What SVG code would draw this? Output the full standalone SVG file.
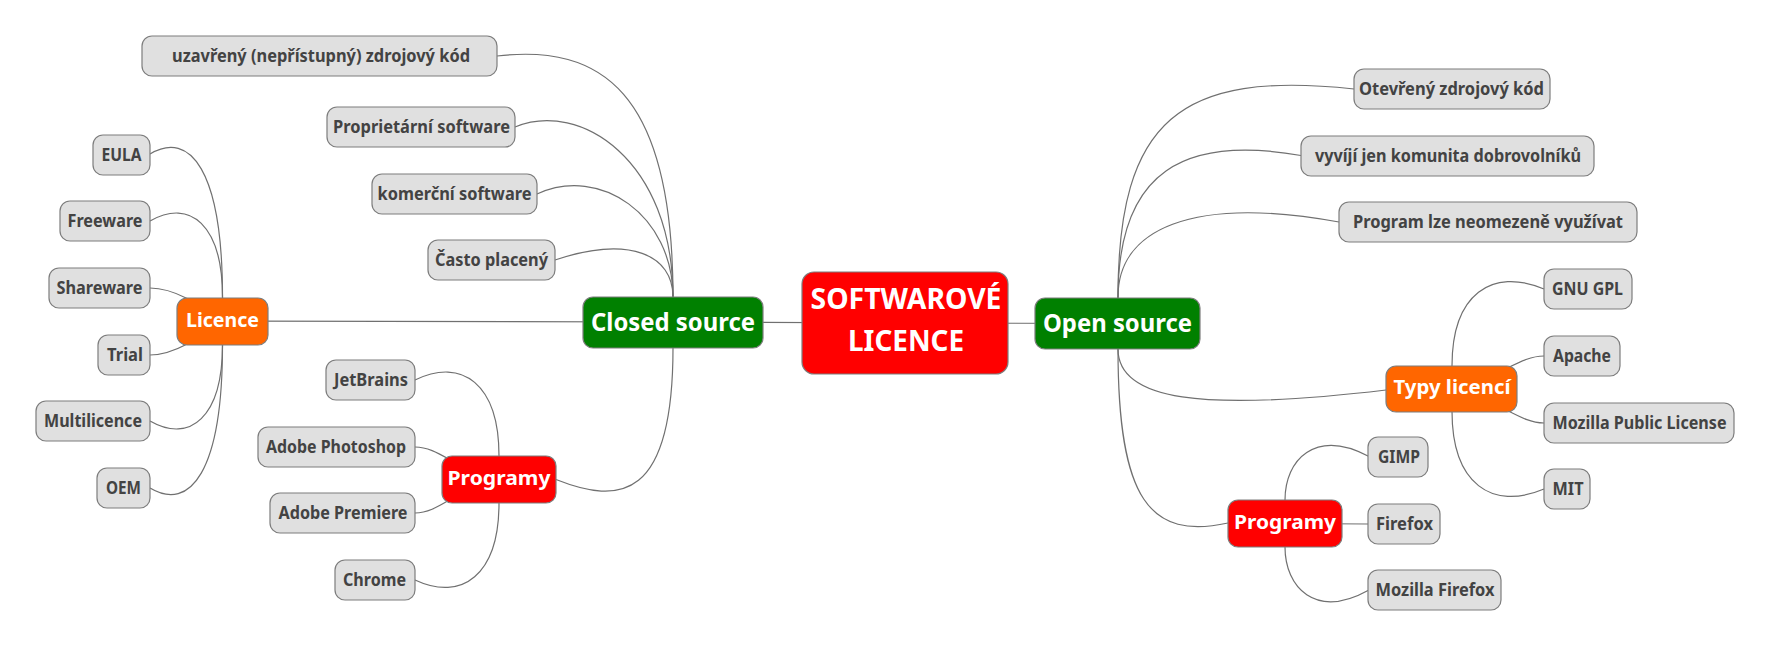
<svg xmlns="http://www.w3.org/2000/svg" width="1772" height="648" viewBox="0 0 1772 648">
<style>
.c{fill:none;stroke:#707070;stroke-width:1.2}
.leaf rect{fill:#e0e0e0;stroke:#7d7d7d;stroke-width:1.2}
.leaf text{fill:#434343;font-family:"Noto Sans","Open Sans",sans-serif;font-weight:bold;font-size:17px;text-anchor:middle}
.l2 rect,.l1 rect,.root rect{stroke:#7d7d7d;stroke-width:1.2}
.l2 text{fill:#ffffff;font-family:"Noto Sans","Open Sans",sans-serif;font-weight:bold;font-size:20px;text-anchor:middle}
.l1 text{fill:#ffffff;font-family:"Noto Sans","Open Sans",sans-serif;font-weight:bold;font-size:24.5px;text-anchor:middle}
.root text{fill:#ffffff;font-family:"Noto Sans","Open Sans",sans-serif;font-weight:bold;font-size:28.5px;text-anchor:middle}
.red{fill:#ff0000}.orange{fill:#ff6600}.green{fill:#008000}
</style>
<rect width="1772" height="648" fill="#ffffff"/>
<g id="connectors">
<path class="c" d="M905,323 L673,322"/>
<path class="c" d="M905,323 L1117,323.5"/>
<path class="c" d="M673,322 L673,297 C673,90 600,44 497,56"/>
<path class="c" d="M673,322 L673,297 C673,160 580,100 515,127"/>
<path class="c" d="M673,322 L673,297 C673,215 600,165 537,194"/>
<path class="c" d="M673,322 L673,297 C673,255 630,235 555,260"/>
<path class="c" d="M222,321 L673,322"/>
<path class="c" d="M673,322 L673,348 C673,500 620,505 556,479.5"/>
<path class="c" d="M222.5,321 L222.5,297 C222.5,170 190,130 150,154"/>
<path class="c" d="M222.5,321 L222.5,297 C222.5,225 190,198 150,221"/>
<path class="c" d="M150,288 C175,288 200,305 222.5,321"/>
<path class="c" d="M150,355 C175,355 200,337 222.5,321"/>
<path class="c" d="M222.5,321 L222.5,345 C222.5,417 190,444 150,421"/>
<path class="c" d="M222.5,321 L222.5,345 C222.5,472 190,512 150,488"/>
<path class="c" d="M499,479 L499,456 C499,384 462,357 415,380"/>
<path class="c" d="M415,447 C440,447 455,470 499,479.5"/>
<path class="c" d="M415,513 C440,513 455,489 499,479.5"/>
<path class="c" d="M499,479 L499,503 C499,575 462,602 415,580"/>
<path class="c" d="M1118,323 L1118,297 C1118,120 1180,70 1354,89"/>
<path class="c" d="M1118,323 L1118,297 C1118,170 1185,135 1301,155.5"/>
<path class="c" d="M1118,323 L1118,297 C1118,230 1190,195 1339,222"/>
<path class="c" d="M1118,323 L1118,349 C1118,400 1200,412 1386,390"/>
<path class="c" d="M1118,323 L1118,349 C1118,500 1150,540 1228,523"/>
<path class="c" d="M1452,389 L1452,366 C1452,294 1492,267 1544,289"/>
<path class="c" d="M1544,356 C1519,356 1500,378 1451.5,389"/>
<path class="c" d="M1544,423 C1519,423 1500,400 1451.5,389"/>
<path class="c" d="M1452,389 L1452,411 C1452,484 1492,511 1544,489"/>
<path class="c" d="M1285,523 L1285,500 C1285,460 1315,428 1369,456.5"/>
<path class="c" d="M1285,523.5 L1368,524"/>
<path class="c" d="M1285,523 L1285,547 C1285,587 1315,620 1369,590"/>
</g>
<g id="root" class="root"><rect class="red" x="802" y="272" width="206" height="102" rx="12"/><text x="906" y="309" textLength="191" lengthAdjust="spacingAndGlyphs">SOFTWAROVÉ</text><text x="906" y="351" textLength="116" lengthAdjust="spacingAndGlyphs">LICENCE</text></g>
<g id="closed" class="l1"><rect class="green" x="583" y="297" width="180" height="51" rx="10"/><text x="673" y="330.5" textLength="164" lengthAdjust="spacingAndGlyphs">Closed source</text></g>
<g id="open" class="l1"><rect class="green" x="1035" y="298" width="165" height="51" rx="10"/><text x="1117.5" y="331.5" textLength="149" lengthAdjust="spacingAndGlyphs">Open source</text></g>
<g id="licence" class="l2"><rect class="orange" x="177" y="298" width="91" height="47" rx="10"/><text x="222.5" y="327" textLength="73" lengthAdjust="spacingAndGlyphs">Licence</text></g>
<g id="programy-l" class="l2"><rect class="red" x="442" y="456" width="114" height="47" rx="10"/><text x="499" y="485" textLength="103" lengthAdjust="spacingAndGlyphs">Programy</text></g>
<g id="typy" class="l2"><rect class="orange" x="1386" y="366" width="131" height="46" rx="10"/><text x="1452" y="394" textLength="117" lengthAdjust="spacingAndGlyphs">Typy licencí</text></g>
<g id="programy-r" class="l2"><rect class="red" x="1228" y="500" width="114" height="47" rx="10"/><text x="1285" y="529" textLength="102" lengthAdjust="spacingAndGlyphs">Programy</text></g>
<g id="uzavreny" class="leaf"><rect x="142" y="36" width="355" height="40" rx="10"/><text x="321" y="62" textLength="298" lengthAdjust="spacingAndGlyphs">uzavřený (nepřístupný) zdrojový kód</text></g>
<g id="proprietarni" class="leaf"><rect x="327" y="107" width="188" height="40" rx="10"/><text x="421.5" y="133" textLength="177" lengthAdjust="spacingAndGlyphs">Proprietární software</text></g>
<g id="komercni" class="leaf"><rect x="372" y="174" width="165" height="40" rx="10"/><text x="454.5" y="200" textLength="154" lengthAdjust="spacingAndGlyphs">komerční software</text></g>
<g id="casto" class="leaf"><rect x="428" y="240" width="127" height="40" rx="10"/><text x="491.5" y="266" textLength="113" lengthAdjust="spacingAndGlyphs">Často placený</text></g>
<g id="eula" class="leaf"><rect x="93" y="135" width="57" height="40" rx="10"/><text x="121.5" y="161" textLength="40" lengthAdjust="spacingAndGlyphs">EULA</text></g>
<g id="freeware" class="leaf"><rect x="60" y="201" width="90" height="40" rx="10"/><text x="105" y="227" textLength="75" lengthAdjust="spacingAndGlyphs">Freeware</text></g>
<g id="shareware" class="leaf"><rect x="49" y="268" width="101" height="40" rx="10"/><text x="99.5" y="294" textLength="86" lengthAdjust="spacingAndGlyphs">Shareware</text></g>
<g id="trial" class="leaf"><rect x="98" y="335" width="52" height="40" rx="10"/><text x="125" y="361" textLength="36" lengthAdjust="spacingAndGlyphs">Trial</text></g>
<g id="multilicence" class="leaf"><rect x="36" y="401" width="114" height="40" rx="10"/><text x="93" y="427" textLength="98" lengthAdjust="spacingAndGlyphs">Multilicence</text></g>
<g id="oem" class="leaf"><rect x="97" y="468" width="53" height="40" rx="10"/><text x="123.5" y="494" textLength="35" lengthAdjust="spacingAndGlyphs">OEM</text></g>
<g id="jetbrains" class="leaf"><rect x="326" y="360" width="89" height="40" rx="10"/><text x="371" y="386" textLength="74" lengthAdjust="spacingAndGlyphs">JetBrains</text></g>
<g id="photoshop" class="leaf"><rect x="258" y="427" width="157" height="40" rx="10"/><text x="336" y="453" textLength="140" lengthAdjust="spacingAndGlyphs">Adobe Photoshop</text></g>
<g id="premiere" class="leaf"><rect x="270" y="493" width="145" height="40" rx="10"/><text x="343" y="519" textLength="129" lengthAdjust="spacingAndGlyphs">Adobe Premiere</text></g>
<g id="chrome" class="leaf"><rect x="335" y="560" width="80" height="40" rx="10"/><text x="374.5" y="586" textLength="63" lengthAdjust="spacingAndGlyphs">Chrome</text></g>
<g id="otevreny" class="leaf"><rect x="1354" y="69" width="196" height="40" rx="10"/><text x="1451.5" y="95" textLength="185" lengthAdjust="spacingAndGlyphs">Otevřený zdrojový kód</text></g>
<g id="vyviji" class="leaf"><rect x="1301" y="136" width="293" height="40" rx="10"/><text x="1448" y="162" textLength="266" lengthAdjust="spacingAndGlyphs">vyvíjí jen komunita dobrovolníků</text></g>
<g id="program-lze" class="leaf"><rect x="1339" y="202" width="298" height="40" rx="10"/><text x="1488" y="228" textLength="270" lengthAdjust="spacingAndGlyphs">Program lze neomezeně využívat</text></g>
<g id="gnugpl" class="leaf"><rect x="1544" y="269" width="88" height="40" rx="10"/><text x="1587.5" y="295" textLength="71" lengthAdjust="spacingAndGlyphs">GNU GPL</text></g>
<g id="apache" class="leaf"><rect x="1544" y="336" width="76" height="40" rx="10"/><text x="1582" y="362" textLength="58" lengthAdjust="spacingAndGlyphs">Apache</text></g>
<g id="mpl" class="leaf"><rect x="1544" y="403" width="190" height="40" rx="10"/><text x="1639.5" y="429" textLength="174" lengthAdjust="spacingAndGlyphs">Mozilla Public License</text></g>
<g id="mit" class="leaf"><rect x="1544" y="469" width="46" height="40" rx="10"/><text x="1568" y="495" textLength="31" lengthAdjust="spacingAndGlyphs">MIT</text></g>
<g id="gimp" class="leaf"><rect x="1368" y="437" width="60" height="40" rx="10"/><text x="1399" y="463" textLength="42" lengthAdjust="spacingAndGlyphs">GIMP</text></g>
<g id="firefox" class="leaf"><rect x="1368" y="504" width="72" height="40" rx="10"/><text x="1404.5" y="530" textLength="57" lengthAdjust="spacingAndGlyphs">Firefox</text></g>
<g id="mozilla-firefox" class="leaf"><rect x="1368" y="570" width="133" height="40" rx="10"/><text x="1435" y="596" textLength="119" lengthAdjust="spacingAndGlyphs">Mozilla Firefox</text></g>
</svg>
